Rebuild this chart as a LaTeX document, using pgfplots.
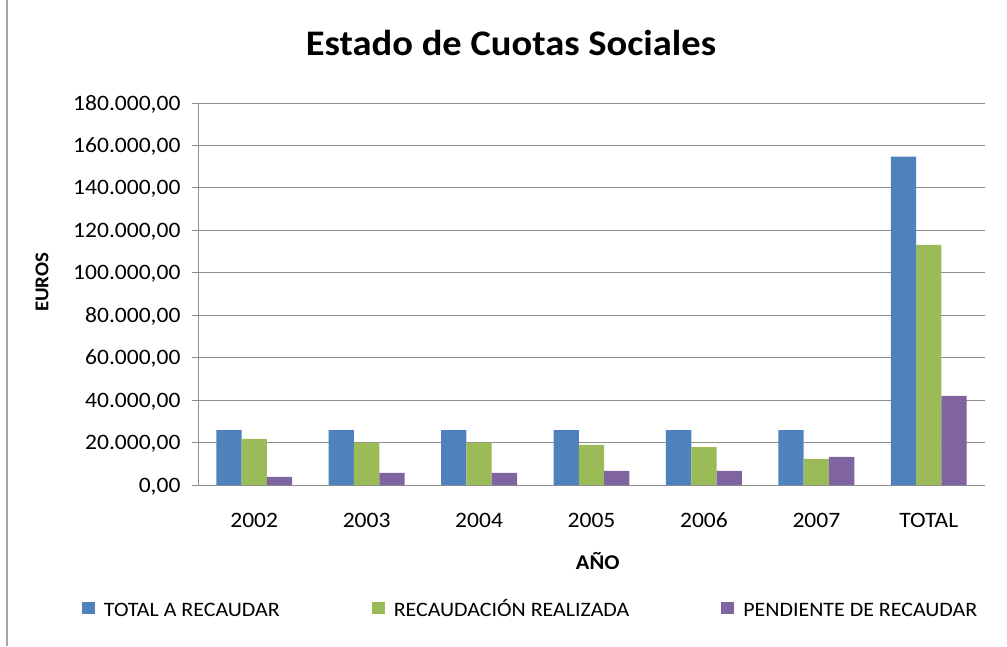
\documentclass[border=0pt]{standalone}
\usepackage{pgfplots}
\pgfplotsset{compat=1.18}
\usepackage{fontspec}
\setmainfont[FakeStretch=1.07]{Carlito}
\definecolor{cblue}{HTML}{4F81BD}
\definecolor{cgreen}{HTML}{9BBB59}
\definecolor{cpurple}{HTML}{8064A2}
\definecolor{cgrid}{HTML}{8E8E8E}
\begin{document}
\begin{tikzpicture}[x=1pt,y=1pt]
\path[use as bounding box] (0,0) rectangle (1007,646);
\draw[color=black!35, line width=2pt] (7,0) -- (7,646);
\begin{axis}[
  at={(198pt,161pt)}, anchor=south west,
  width=787pt, height=382pt, scale only axis,
  ybar=0pt, bar width=25.3pt,
  xmin=-0.5, xmax=6.5, ymin=0, ymax=180000,
  xtick={0,1,2,3,4,5,6},
  xticklabels={2002,2003,2004,2005,2006,2007,TOTAL},
  major x tick style={draw=none},
  ytick={0,20000,40000,60000,80000,100000,120000,140000,160000,180000},
  scaled y ticks=false,
  ymajorgrids, grid style={draw=cgrid, line width=1pt},
  axis x line*=bottom, axis y line*=left,
  x axis line style={-, draw=cgrid, line width=1pt},
  y axis line style={-, draw=cgrid, line width=1pt},
  major y tick style={draw=cgrid, line width=1pt},
  tick align=outside, major tick length=6pt,
  ticklabel style={font=\fontsize{22}{26}\selectfont},
  yticklabel style={xshift=-8pt, text height=14pt, text depth=0pt, /pgf/number format/.cd, fixed, fixed zerofill, precision=2, 1000 sep={.}, use comma, assume math mode=true},
  xticklabel style={yshift=-19pt, text height=14pt, text depth=0pt},
  title={\bfseries Estado de Cuotas Sociales},
  title style={font=\fontsize{36}{40}\selectfont, at={(axis description cs:0.3977,1.1081)}, anchor=base},
  xlabel={\bfseries AÑO},
  xlabel style={font=\fontsize{21}{24}\selectfont, at={(axis description cs:0.5079,-0.2207)}, anchor=base},
  ylabel={\bfseries EUROS},
  ylabel style={font=\fontsize{19.5}{23}\selectfont, at={(axis description cs:-0.1902,0.531)}, anchor=base},
  legend columns=3,
  legend style={draw=none, fill=none, inner sep=0pt, outer sep=0pt,
    at={(axis description cs:-0.1474,-0.349)}, anchor=south west,
    font=\fontsize{20.5}{24}\selectfont,
    nodes={inner sep=0pt, outer sep=0pt, anchor=base west},
    /tikz/every odd column/.append style={column sep=9pt},
    /tikz/every even column/.append style={column sep=92pt}},
  legend image code/.code={\fill[#1] (0pt,2.6pt) rectangle (13pt,15pt);},
]
\addplot[fill=cblue, draw=none] coordinates {(0,25900) (1,25900) (2,25900) (3,25900) (4,25900) (5,25900) (6,154700)};
\addplot[fill=cgreen, draw=none] coordinates {(0,21700) (1,20000) (2,20000) (3,18900) (4,17900) (5,12300) (6,113200)};
\addplot[fill=cpurple, draw=none] coordinates {(0,3800) (1,5700) (2,5700) (3,6600) (4,6600) (5,13200) (6,42000)};
\legend{TOTAL A RECAUDAR, RECAUDACIÓN REALIZADA, PENDIENTE DE RECAUDAR}
\end{axis}
\end{tikzpicture}
\end{document}
